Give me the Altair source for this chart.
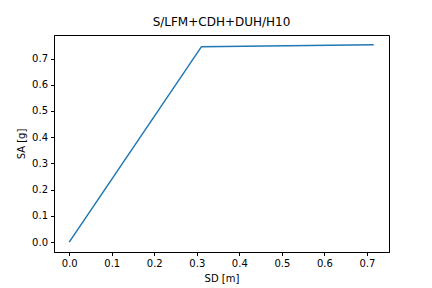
import altair as alt
import pandas as pd

sd = [0.0, 0.311, 0.716]
sa = [0.0, 0.745, 0.752]
ticks = [0.0, 0.1, 0.2, 0.3, 0.4, 0.5, 0.6, 0.7]

df = pd.DataFrame({"SD": sd, "SA": sa, "order": list(range(len(sd)))})

chart = alt.Chart(df).mark_line(color="#1f77b4", strokeWidth=1.5, clip=True).encode(
    x=alt.X("SD:Q", title="SD [m]",
            scale=alt.Scale(domain=[-0.0358, 0.752], nice=False, zero=False),
            axis=alt.Axis(values=ticks, format=".1f", grid=False, tickSize=3.5,
                          domainColor="black", tickColor="black", labelColor="black",
                          labelFont="DejaVu Sans", labelFontSize=10, labelPadding=3,
                          titleFont="DejaVu Sans", titleFontSize=10, titleFontWeight="normal",
                          titleColor="black", titlePadding=5)),
    y=alt.Y("SA:Q", title="SA [g]",
            scale=alt.Scale(domain=[-0.0376, 0.7896], nice=False, zero=False),
            axis=alt.Axis(values=ticks, format=".1f", grid=False, tickSize=3.5,
                          domainColor="black", tickColor="black", labelColor="black",
                          labelFont="DejaVu Sans", labelFontSize=10, labelPadding=3,
                          titleFont="DejaVu Sans", titleFontSize=10, titleFontWeight="normal",
                          titleColor="black", titlePadding=5)),
    order="order:Q",
).properties(
    width=335, height=217,
    background="white",
    title=alt.TitleParams("S/LFM+CDH+DUH/H10", font="DejaVu Sans", fontSize=12,
                          fontWeight="normal", color="black", offset=6),
    autosize=alt.AutoSizeParams(type="none"),
    padding={"left": 54, "top": 35, "right": 43, "bottom": 36},
).configure_view(stroke="black", strokeWidth=1, strokeOpacity=1)

chart.save("out.html", embed_options={"renderer": "svg", "actions": False})
